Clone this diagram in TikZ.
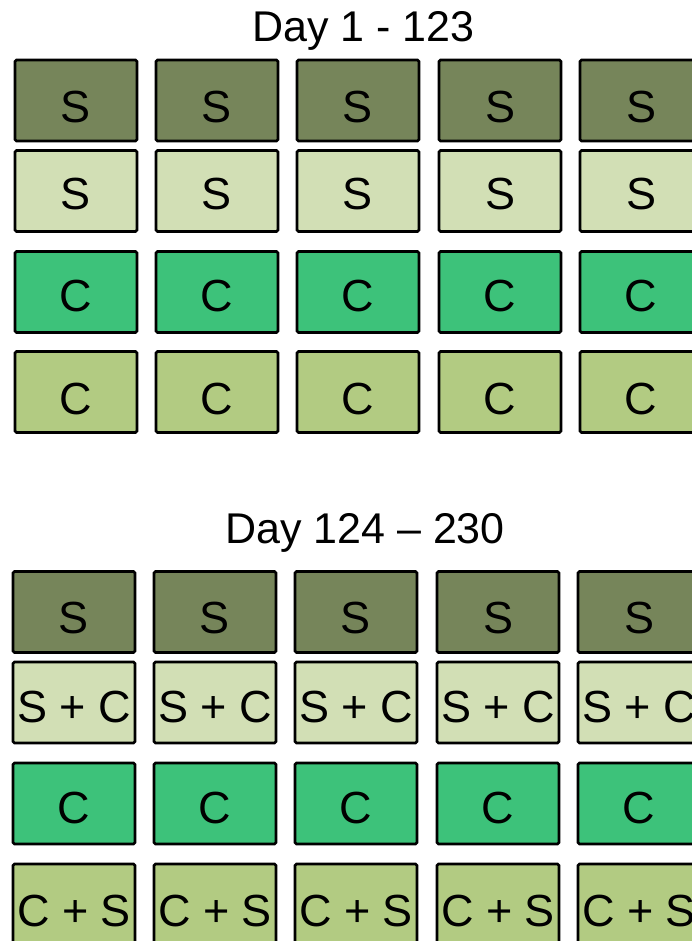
\documentclass[tikz,border=0pt]{standalone}
\usepackage{fontspec}
\setmainfont{Liberation Sans}
\definecolor{darkolive}{HTML}{76855A}
\definecolor{palegreen}{HTML}{D2DFB5}
\definecolor{seagreen}{HTML}{3DC27A}
\definecolor{olivegreen}{HTML}{B2CB82}
\tikzset{
  cell/.style={draw=black, line width=2.6pt, rounded corners=1.5pt,
    minimum width=122pt, minimum height=81pt, inner sep=0pt,
    font=\fontsize{45}{45}\selectfont, text depth=0pt, anchor=center},
  title/.style={font=\fontsize{43}{43}\selectfont, anchor=base, inner sep=0pt}
}
\begin{document}
\begin{tikzpicture}[x=1pt,y=-1pt]
\useasboundingbox (0,0) rectangle (691,941);
\node[title] (t1) at (363.5,41.5) {Day 1 - 123};
\node[title] (t2) at (365,543) {Day 124 -- 230};
% top grid
\foreach \c/\x in {1/76,2/217,3/358,4/500,5/641}{
  \node[cell, fill=darkolive, text height=45pt] (a1\c) at (\x,100.5) {S};
  \node[cell, fill=palegreen, text height=38pt] (a2\c) at (\x,191) {S};
  \node[cell, fill=seagreen, text height=38pt] (a3\c) at (\x,292) {C};
  \node[cell, fill=olivegreen, text height=44pt] (a4\c) at (\x,392) {C};
}
% bottom grid
\foreach \c/\x in {1/74,2/215,3/356,4/498,5/639}{
  \node[cell, fill=darkolive, text height=43pt] (b1\c) at (\x,612) {S};
  \node[cell, fill=palegreen, text height=39pt] (b2\c) at (\x,702.5) {S + C};
  \node[cell, fill=seagreen, text height=39pt] (b3\c) at (\x,803.5) {C};
  \node[cell, fill=olivegreen, text height=44pt] (b4\c) at (\x,904.5) {C + S};
}
\end{tikzpicture}
\end{document}
